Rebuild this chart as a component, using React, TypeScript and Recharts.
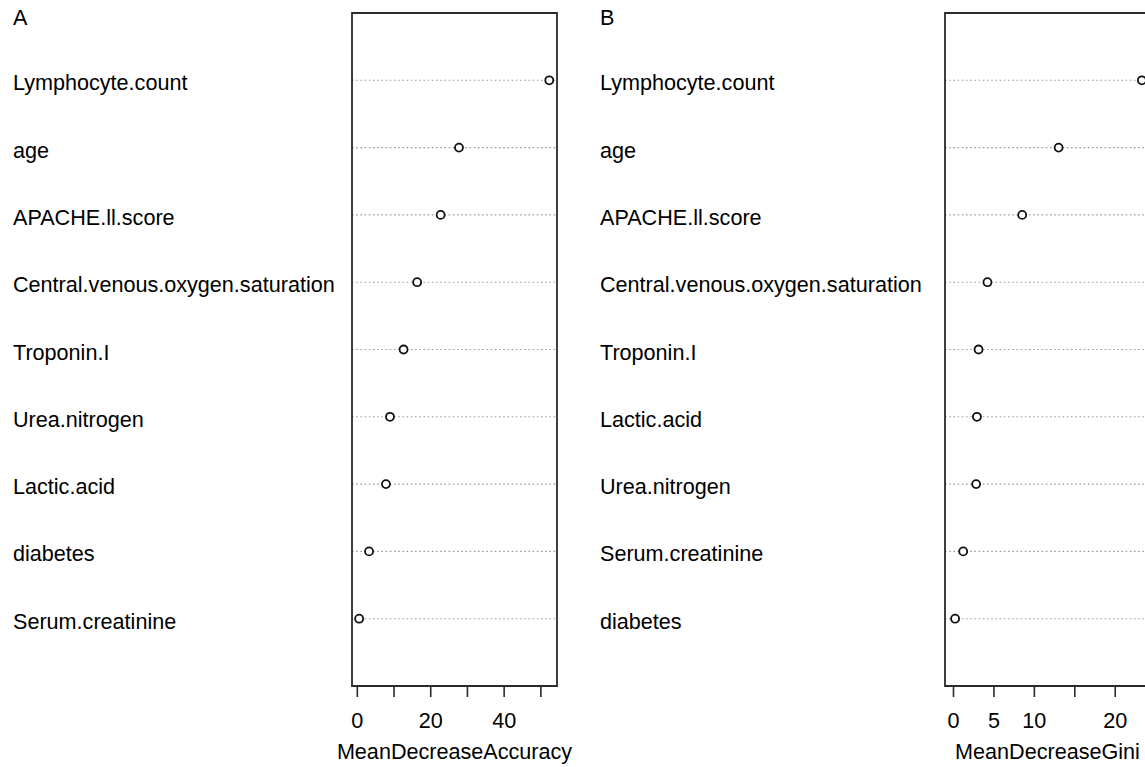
import { CartesianGrid, ReferenceArea, Scatter, ScatterChart, XAxis, YAxis } from 'recharts'

// Variable importance, random forest — two dot charts side by side.
const ACCURACY_VARS = [
  'Lymphocyte.count',
  'age',
  'APACHE.ll.score',
  'Central.venous.oxygen.saturation',
  'Troponin.I',
  'Urea.nitrogen',
  'Lactic.acid',
  'diabetes',
  'Serum.creatinine',
]
const ACCURACY_VALUES = [52.3, 27.7, 22.7, 16.3, 12.6, 8.9, 7.8, 3.2, 0.5]
const ACCURACY_TICKS = [0, 10, 20, 30, 40, 50]
const ACCURACY_LABELS = [0, 20, 40]

const GINI_VARS = [
  'Lymphocyte.count',
  'age',
  'APACHE.ll.score',
  'Central.venous.oxygen.saturation',
  'Troponin.I',
  'Lactic.acid',
  'Urea.nitrogen',
  'Serum.creatinine',
  'diabetes',
]
const GINI_VALUES = [23.3, 13.0, 8.5, 4.2, 3.1, 2.9, 2.8, 1.2, 0.2]
const GINI_TICKS = [0, 5, 10, 15, 20]
const GINI_LABELS = [0, 5, 10, 20]

const FONT = '"Liberation Sans", Arial, sans-serif'
const FONT_SIZE = 21.6
const INK = '#2b2b2b'

function OpenDot(props: { cx?: number; cy?: number }) {
  if (props.cx == null || props.cy == null) return null
  return <circle cx={props.cx} cy={props.cy} r={4} fill="#ffffff" stroke="#111" strokeWidth={1.8} />
}

function DotPanel({
  title,
  vars,
  values,
  ticks,
  labels,
  domain,
  axisTitle,
  width,
  yAxisWidth,
}: {
  title: string
  vars: string[]
  values: number[]
  ticks: number[]
  labels: number[]
  domain: [number, number]
  axisTitle: string
  width: number
  yAxisWidth: number
}) {
  const n = vars.length
  // R's dotchart puts the first row at the top: y = n for row 0 … 1 for the last.
  const data = vars.map((name, i) => ({ name, x: values[i], y: n - i }))
  const rowTicks = data.map((d) => d.y)
  const nameAt = (y: number) => data.find((d) => d.y === y)?.name ?? ''
  return (
    <ScatterChart
      width={width}
      height={767}
      margin={{ top: 13, right: width - yAxisWidth - 205, bottom: 0, left: 0 }}
      style={{ fontFamily: FONT }}
    >
      <CartesianGrid horizontal vertical={false} stroke="#9a9a9a" strokeWidth={1.1} strokeDasharray="1.6 2.6" />
      <XAxis
        type="number"
        dataKey="x"
        domain={domain}
        ticks={ticks}
        allowDataOverflow
        height={81}
        stroke={INK}
        axisLine={false}
        tickLine={{ stroke: INK, strokeWidth: 1.6 }}
        tickSize={11}
        tickMargin={16}
        tick={{ fontSize: FONT_SIZE, fill: '#000' }}
        tickFormatter={(v: number) => (labels.includes(v) ? String(v) : '')}
        interval={0}
        label={{ value: axisTitle, position: 'insideBottom', offset: 8, fontSize: FONT_SIZE, fill: '#000' }}
      />
      <YAxis
        type="number"
        dataKey="y"
        domain={[0, n + 1]}
        ticks={rowTicks}
        width={yAxisWidth}
        axisLine={false}
        tickLine={false}
        interval={0}
        tick={(p: { y: number; payload: { value: number } }) => (
          <text x={13} y={p.y + 10} fontSize={FONT_SIZE} fill="#000" textAnchor="start">
            {nameAt(p.payload.value)}
          </text>
        )}
      />
      <ReferenceArea
        x1={domain[0]}
        x2={domain[1]}
        y1={0}
        y2={n + 1}
        fill="none"
        stroke={INK}
        strokeWidth={1.8}
        ifOverflow="visible"
      />
      <Scatter data={data} shape={<OpenDot />} isAnimationActive={false} />
      <text x={13} y={25} fontSize={FONT_SIZE} fill="#000">
        {title}
      </text>
    </ScatterChart>
  )
}

export default function App() {
  return (
    <div
      style={{
        position: 'absolute',
        left: 0,
        top: 0,
        width: 1145,
        height: 767,
        overflow: 'hidden',
        background: '#ffffff',
        display: 'flex',
      }}
    >
      <div style={{ flexShrink: 0 }}>
        <DotPanel
          title="A"
          vars={ACCURACY_VARS}
          values={ACCURACY_VALUES}
          ticks={ACCURACY_TICKS}
          labels={ACCURACY_LABELS}
          domain={[-1.45, 54.4]}
          axisTitle="MeanDecreaseAccuracy"
          width={587}
          yAxisWidth={352}
        />
      </div>
      <div style={{ flexShrink: 0 }}>
        <DotPanel
          title="B"
          vars={GINI_VARS}
          values={GINI_VALUES}
          ticks={GINI_TICKS}
          labels={GINI_LABELS}
          domain={[-1.05, 24.3]}
          axisTitle="MeanDecreaseGini"
          width={583}
          yAxisWidth={358}
        />
      </div>
    </div>
  )
}
